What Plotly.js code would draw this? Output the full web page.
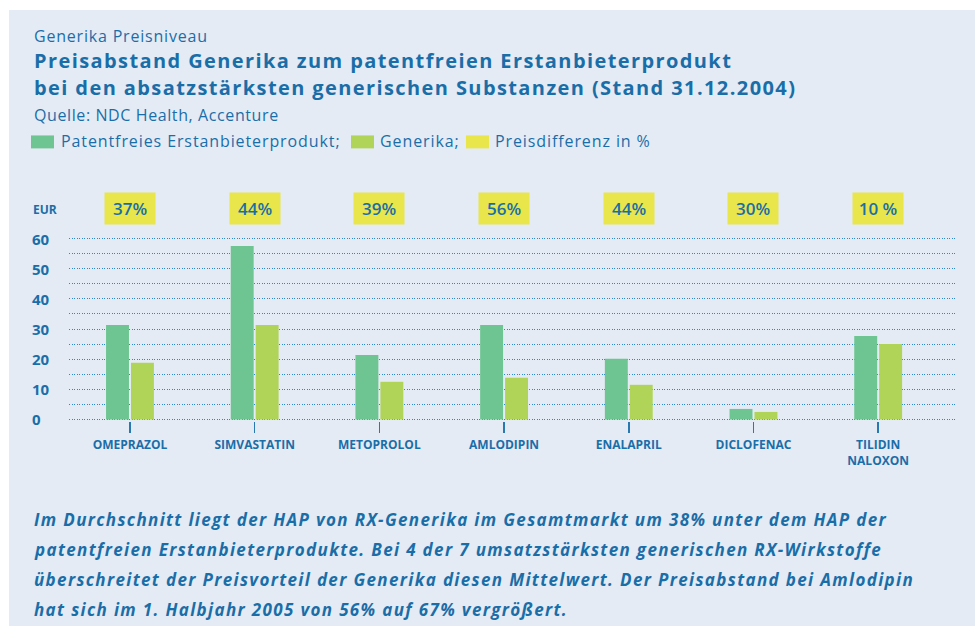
<!DOCTYPE html>
<html><head><meta charset="utf-8">
<script src="https://cdn.plot.ly/plotly-3.0.1.min.js"></script>
<style>body{margin:0;background:#fff;overflow:hidden;} #chart{position:absolute;left:9px;top:10px;width:966px;height:616px;}</style>
</head><body><div id="chart"></div>
<script>
const categories = ['OMEPRAZOL','SIMVASTATIN','METOPROLOL','AMLODIPIN','ENALAPRIL','DICLOFENAC','TILIDIN<br>NALOXON'];
const erstanbieter = [31.3, 57.5, 21.4, 31.3, 20.1, 3.5, 27.7];
const generika = [18.8, 31.3, 12.5, 13.8, 11.5, 2.5, 25.0];
const preisdifferenz = ['37%', '44%', '39%', '56%', '44%', '30%', '10 %'];
const yTicks = [0, 10, 20, 30, 40, 50, 60];
const seriesNames = ['Patentfreies Erstanbieterprodukt;', 'Generika;', 'Preisdifferenz in %'];
const titleLines = ['Generika Preisniveau',
  'Preisabstand Generika zum patentfreien Erstanbieterprodukt',
  'bei den absatzstärksten generischen Substanzen (Stand 31.12.2004)',
  'Quelle: NDC Health, Accenture'];
const noteLines = ['Im Durchschnitt liegt der HAP von RX-Generika im Gesamtmarkt um 38% unter dem HAP der',
  'patentfreien Erstanbieterprodukte. Bei 4 der 7 umsatzstärksten generischen RX-Wirkstoffe',
  'überschreitet der Preisvorteil der Generika diesen Mittelwert. Der Preisabstand bei Amlodipin',
  'hat sich im 1. Halbjahr 2005 von 56% auf 67% vergrößert.'];

const BLUE = '#1a6ea8';
const COLORS = ['#6fc592', '#b0d458', '#e8e64a'];
const FONT = 'Open Sans, DejaVu Sans, sans-serif';
// page pixel -> paper coords (plot area: x 69..955, y 236.8..421.2)
const PT = 236.8, PB = 421.2;
const px = X => (X - 69) / 886;
const py = Y => (PB - Y) / (PB - PT);
const ls = (t, s) => '<span style="letter-spacing:' + s + 'px">' + t + '</span>';

const xIdx = categories.map((c, i) => i);
const traces = [
  {type: 'bar', x: xIdx, y: erstanbieter, name: seriesNames[0], marker: {color: COLORS[0]}, hoverinfo: 'skip'},
  {type: 'bar', x: xIdx, y: generika, name: seriesNames[1], marker: {color: COLORS[1]}, hoverinfo: 'skip'}
];

const ann = [];
const shapes = [];
// titles
ann.push({text: ls(titleLines[0], 0.8), x: px(32), y: py(35), xanchor: 'left', yanchor: 'middle', font: {family: FONT, size: 16, color: BLUE}});
ann.push({text: '<b>' + ls(titleLines[1], 1.4) + '</b>', x: px(32), y: py(60), xanchor: 'left', yanchor: 'middle', font: {family: FONT, size: 20, color: BLUE}});
ann.push({text: '<b>' + ls(titleLines[2], 1.4) + '</b>', x: px(32), y: py(87), xanchor: 'left', yanchor: 'middle', font: {family: FONT, size: 20, color: BLUE}});
ann.push({text: ls(titleLines[3], 0.6), x: px(32), y: py(115), xanchor: 'left', yanchor: 'middle', font: {family: FONT, size: 16, color: BLUE}});
// legend
const legX = [[31, 59], [351, 378], [466, 493]];
seriesNames.forEach((n, i) => {
  shapes.push({type: 'rect', xref: 'paper', yref: 'paper', x0: px(legX[i][0]), x1: px(legX[i][0] + 23), y0: py(148), y1: py(135), fillcolor: COLORS[i], line: {width: 0}});
  ann.push({text: ls(n, 0.9), x: px(legX[i][1]), y: py(141), xanchor: 'left', yanchor: 'middle', font: {family: FONT, size: 16, color: BLUE}});
});
// EUR + y tick labels
ann.push({text: '<b>EUR</b>', x: px(31), y: py(209), xanchor: 'left', yanchor: 'middle', font: {family: FONT, size: 12, color: BLUE}});
yTicks.forEach(v => ann.push({text: '<b>' + v + '</b>', x: px(30), xref: 'paper', y: v, yref: 'y', xanchor: 'left', yanchor: 'middle', font: {family: FONT, size: 15, color: BLUE}}));
// percent boxes
preisdifferenz.forEach((p, i) => ann.push({text: p, x: i, xref: 'x', y: py(208.5), yref: 'paper', xanchor: 'center', yanchor: 'middle', width: 50, height: 31, borderpad: 0, bgcolor: COLORS[2], font: {family: FONT, size: 17, color: BLUE, weight: 600}}));
// note text
noteLines.forEach((l, i) => ann.push({text: '<b><i>' + ls(l, 1.35) + '</i></b>', x: px(32), y: py(520 + 30 * i), xanchor: 'left', yanchor: 'middle', font: {family: FONT, size: 17, color: BLUE}}));
ann.forEach(a => { if (!a.xref) a.xref = 'paper'; if (!a.yref) a.yref = 'paper'; a.showarrow = false; });

const layout = {
  width: 966, height: 616,
  margin: {l: 60, r: 20, t: PT - 10, b: 616 - (PB - 10), pad: 0},
  paper_bgcolor: '#e5ebf5', plot_bgcolor: 'rgba(0,0,0,0)',
  showlegend: false,
  barmode: 'group', bargap: 0.6, bargroupgap: 0.08,
  xaxis: {type: 'linear', range: [-0.489, 6.616], tickmode: 'array', tickvals: xIdx, ticktext: categories.map(c => '<b>' + c + '</b>'),
    showgrid: false, zeroline: false, showline: false, ticks: 'outside', ticklen: 11, tickwidth: 1.5, tickcolor: '#2a78b0',
    tickfont: {family: FONT, size: 12, color: BLUE}, ticklabelstandoff: 2},
  yaxis: {range: [-0.5, 60.5], tickmode: 'linear', dtick: 5, tick0: 0, showticklabels: false, showgrid: true, gridcolor: '#2f86c8', griddash: '1px,1.5px', gridwidth: 1,
    zeroline: false, showline: false, ticks: ''},
  annotations: ann, shapes: shapes,
  font: {family: FONT, color: BLUE}
};
Plotly.newPlot('chart', traces, layout, {displayModeBar: false, staticPlot: true});
</script></body></html>
